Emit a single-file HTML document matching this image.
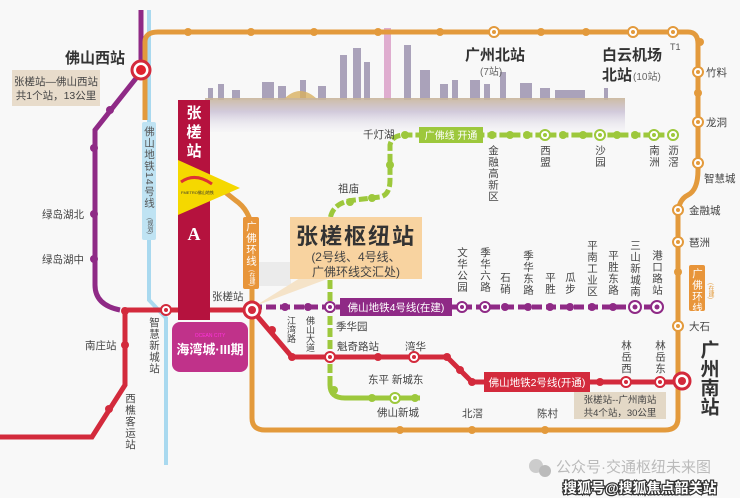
<!DOCTYPE html>
<html><head><meta charset="utf-8"><style>
html,body{margin:0;padding:0;background:#f8f8f8;}
svg{display:block;font-family:"Liberation Sans","Noto Sans CJK SC",sans-serif;}
.l{font-size:10.5px;fill:#444;}
.v{font-size:10.5px;fill:#444;writing-mode:tb;letter-spacing:1px;}
.b{font-weight:bold;fill:#333;}
</style></head><body>
<svg width="740" height="498" viewBox="0 0 740 498">
<rect width="740" height="498" fill="#f8f8f8"/>
<defs>
<linearGradient id="sky" x1="0" y1="0" x2="0" y2="1">
<stop offset="0" stop-color="#c9b59a" stop-opacity="0.9"/>
<stop offset="0.4" stop-color="#c8bfd4" stop-opacity="0.8"/>
<stop offset="1" stop-color="#eceaf2" stop-opacity="0.2"/>
</linearGradient>
</defs>
<g fill="#8a7fa0" opacity="0.7">
<rect x="208" y="88" width="5" height="12"/><rect x="218" y="84" width="6" height="16"/><rect x="232" y="90" width="8" height="10"/>
<rect x="262" y="82" width="12" height="18"/><rect x="278" y="86" width="8" height="14"/><rect x="300" y="80" width="6" height="20"/>
<rect x="318" y="86" width="8" height="14"/>
<rect x="340" y="55" width="7" height="45"/><rect x="353" y="48" width="8" height="52"/>
<rect x="364" y="62" width="6" height="38"/><rect x="404" y="45" width="7" height="55"/><rect x="420" y="70" width="10" height="30"/>
<rect x="440" y="84" width="8" height="16"/><rect x="452" y="80" width="6" height="20"/>
<rect x="470" y="80" width="10" height="20"/><rect x="484" y="84" width="6" height="16"/><rect x="500" y="72" width="6" height="28"/>
<rect x="520" y="83" width="12" height="17"/><rect x="540" y="88" width="10" height="12"/><rect x="555" y="90" width="30" height="10"/>
<rect x="604" y="88" width="4" height="12"/>
</g>
<rect x="384" y="28" width="7" height="72" fill="#d89ac4" opacity="0.8"/>
<path d="M283 100 Q300 82 318 100Z" fill="#d8b060" opacity="0.8"/>
<rect x="205" y="98" width="420" height="34" fill="url(#sky)"/>

<path d="M149 10 V300 L166 318 V465" stroke="#a9d9ef" stroke-width="4" fill="none"/>
<path d="M141 10 V72 L95 130 V285 Q95 305 120 310" stroke="#8f2a86" stroke-width="5" fill="none"/>
<path d="M0 437 H92 L125 385 V310 H252 L292 357 H447 L472 382 H682" stroke="#d32a3c" stroke-width="5" fill="none"/>
<path d="M252 307 H657" stroke="#8f2a86" stroke-width="5" fill="none" stroke-dasharray="10 4"/>
<path d="M330 385 Q330 398 345 398 H420" stroke="#9dc83c" stroke-width="5" fill="none"/>
<path d="M330 385 V220 Q332 202 355 200 L380 197 Q390 195 390 180 V145 Q392 135 405 135 H673" stroke="#9dc83c" stroke-width="5" fill="none" stroke-dasharray="9 3"/>
<path d="M145 120 V42 Q145 32 158 32 H688 Q698 32 698 44 V170 Q698 190 688 195 Q678 200 678 215 V380 V418 Q678 430 665 430 H265 Q252 430 252 418 V230 Q250 210 235 200 L225 192" stroke="#e39a3c" stroke-width="5" fill="none"/>

<rect x="178" y="100" width="32" height="220" fill="#b5123e"/>
<polygon points="178,160 240,188 178,215" fill="#f5d800"/>
<path d="M181 182 Q195 172 212 184" stroke="#d33" stroke-width="3" fill="none"/>
<text x="181" y="194" font-size="4" fill="#333">FMETRO佛山地铁</text>
<text x="194" y="118" font-size="15" fill="#fff" font-weight="bold" text-anchor="middle">张</text>
<text x="194" y="137" font-size="15" fill="#fff" font-weight="bold" text-anchor="middle">槎</text>
<text x="194" y="156" font-size="15" fill="#fff" font-weight="bold" text-anchor="middle">站</text>
<text x="194" y="240" font-size="18" fill="#fff" font-weight="bold" text-anchor="middle" font-family="Liberation Serif">A</text>
<rect x="172" y="322" width="76" height="50" rx="8" fill="#c0328a"/>
<text x="210" y="337" font-size="5" fill="#f3d" text-anchor="middle">OCEAN CITY</text>
<text x="210" y="354" font-size="13" fill="#fff" font-weight="bold" text-anchor="middle">海湾城·III期</text>

<rect x="142" y="122" width="14" height="118" rx="2" fill="#bfe3f3"/>
<text x="149" y="126" class="v" style="fill:#555">佛山地铁14号线</text>
<text x="149" y="218" style="writing-mode:tb;font-size:6px;fill:#555">(规划)</text>
<rect x="243" y="217" width="16" height="72" rx="2" fill="#e8953a"/>
<text x="251" y="221" class="v" style="fill:#fff">广佛环线</text>
<text x="251" y="270" style="writing-mode:tb;font-size:6px;fill:#fff">(在建)</text>
<rect x="689" y="265" width="16" height="46" rx="2" fill="#e8953a"/>
<text x="697" y="268" class="v" style="fill:#fff">广佛环线</text>
<text x="710" y="283" style="writing-mode:tb;font-size:6px;fill:#e39a3c">(在建)</text>

<rect x="259" y="262" width="32" height="24" fill="#ebebeb"/>
<polygon points="255,306 300,278 330,278" fill="#f5e3c8"/>
<rect x="290" y="217" width="132" height="62" fill="#f8d3a0"/>
<text x="356" y="244" font-size="22" font-weight="bold" fill="#333" text-anchor="middle" letter-spacing="2">张槎枢纽站</text>
<text x="356" y="261" font-size="12" fill="#444" text-anchor="middle">(2号线、4号线、</text>
<text x="356" y="276" font-size="12" fill="#444" text-anchor="middle">广佛环线交汇处)</text>

<rect x="340" y="298" width="112" height="18" fill="#8f2a86"/>
<text x="396" y="311" font-size="10.5" fill="#fff" text-anchor="middle">佛山地铁4号线(在建)</text>
<rect x="484" y="372" width="106" height="20" fill="#d32a3c"/>
<text x="537" y="386" font-size="10.5" fill="#fff" text-anchor="middle">佛山地铁2号线(开通)</text>
<rect x="419" y="127" width="64" height="16" fill="#9dc83c"/>
<text x="451" y="139" font-size="10" fill="#fff" text-anchor="middle">广佛线 开通</text>

<rect x="12" y="70" width="88" height="36" fill="#e8dccb"/>
<text x="56" y="85" font-size="10.5" fill="#444" text-anchor="middle">张槎站—佛山西站</text>
<text x="56" y="99" font-size="10.5" fill="#444" text-anchor="middle">共1个站，13公里</text>
<rect x="574" y="392" width="92" height="27" fill="#e3d8c6"/>
<text x="620" y="403" font-size="9.5" fill="#444" text-anchor="middle">张槎站--广州南站</text>
<text x="620" y="416" font-size="9.5" fill="#444" text-anchor="middle">共4个站，30公里</text>

<g fill="#e39a3c">
<circle cx="188" cy="32" r="4"/><circle cx="251" cy="32" r="4"/><circle cx="314" cy="32" r="4"/><circle cx="378" cy="32" r="4"/>
<circle cx="440" cy="32" r="4"/><circle cx="541" cy="32" r="4"/><circle cx="586" cy="32" r="4"/><circle cx="700" cy="42" r="4"/>
<circle cx="698" cy="93" r="4"/><circle cx="678" cy="272" r="4"/><circle cx="400" cy="430" r="4"/><circle cx="472" cy="430" r="4"/><circle cx="545" cy="430" r="4"/>
</g>
<g fill="#fff" stroke="#e39a3c" stroke-width="2">
<circle cx="494" cy="32" r="5"/><circle cx="633" cy="32" r="5"/><circle cx="673" cy="32" r="5"/><circle cx="698" cy="72" r="5"/>
<circle cx="698" cy="122" r="5"/><circle cx="698" cy="163" r="5"/><circle cx="678" cy="210" r="5"/><circle cx="678" cy="242" r="5"/><circle cx="678" cy="326" r="5"/>
</g>
<g fill="#e39a3c"><circle cx="494" cy="32" r="2"/><circle cx="633" cy="32" r="2"/><circle cx="673" cy="32" r="2"/><circle cx="698" cy="72" r="2"/><circle cx="698" cy="122" r="2"/><circle cx="698" cy="163" r="2"/><circle cx="678" cy="210" r="2"/><circle cx="678" cy="242" r="2"/><circle cx="678" cy="326" r="2"/></g>
<g fill="#8f2a86"><circle cx="110" cy="110" r="4"/><circle cx="94" cy="148" r="4"/><circle cx="94" cy="214" r="4"/><circle cx="94" cy="259" r="4"/>
<circle cx="285" cy="307" r="4"/><circle cx="308" cy="307" r="4"/><circle cx="505" cy="307" r="4"/><circle cx="528" cy="307" r="4"/><circle cx="550" cy="307" r="4"/><circle cx="570" cy="307" r="4"/><circle cx="592" cy="307" r="4"/><circle cx="613" cy="307" r="4"/></g>
<g fill="#fff" stroke="#8f2a86" stroke-width="2"><circle cx="330" cy="307" r="5"/><circle cx="462" cy="307" r="5"/><circle cx="485" cy="307" r="5"/><circle cx="635" cy="307" r="6"/><circle cx="657" cy="307" r="6"/></g>
<g fill="#8f2a86"><circle cx="330" cy="307" r="2"/><circle cx="462" cy="307" r="2"/><circle cx="485" cy="307" r="2"/><circle cx="635" cy="307" r="2.5"/><circle cx="657" cy="307" r="2.5"/></g>
<g fill="#d32a3c"><circle cx="125" cy="311" r="4"/><circle cx="125" cy="345" r="4"/><circle cx="109" cy="409" r="4"/><circle cx="272" cy="330" r="4"/><circle cx="292" cy="357" r="4"/>
<circle cx="378" cy="357" r="4"/><circle cx="447" cy="357" r="4"/><circle cx="460" cy="370" r="4"/><circle cx="472" cy="382" r="4"/><circle cx="600" cy="382" r="4"/></g>
<g fill="#fff" stroke="#d32a3c" stroke-width="2"><circle cx="166" cy="310" r="5"/><circle cx="330" cy="357" r="5"/><circle cx="414" cy="357" r="5"/><circle cx="626" cy="382" r="5"/><circle cx="660" cy="382" r="5"/></g>
<g fill="#d32a3c"><circle cx="166" cy="310" r="2"/><circle cx="330" cy="357" r="2"/><circle cx="414" cy="357" r="2"/><circle cx="626" cy="382" r="2"/><circle cx="660" cy="382" r="2"/></g>
<g fill="#9dc83c"><circle cx="405" cy="135" r="4"/><circle cx="492" cy="135" r="4"/><circle cx="510" cy="135" r="4"/><circle cx="527" cy="135" r="4"/><circle cx="563" cy="135" r="4"/><circle cx="583" cy="135" r="4"/><circle cx="617" cy="135" r="4"/><circle cx="635" cy="135" r="4"/>
<circle cx="390" cy="165" r="4"/><circle cx="372" cy="198" r="4"/><circle cx="350" cy="202" r="4"/><circle cx="334" cy="390" r="4"/><circle cx="372" cy="398" r="4"/><circle cx="415" cy="398" r="4"/></g>
<g fill="#fff" stroke="#9dc83c" stroke-width="2"><circle cx="545" cy="135" r="5"/><circle cx="600" cy="135" r="5"/><circle cx="654" cy="135" r="5"/><circle cx="673" cy="135" r="5"/><circle cx="395" cy="398" r="5"/></g>
<g fill="#9dc83c"><circle cx="545" cy="135" r="2"/><circle cx="600" cy="135" r="2"/><circle cx="654" cy="135" r="2"/><circle cx="673" cy="135" r="2"/><circle cx="395" cy="398" r="2"/></g>
<circle cx="141" cy="70" r="9" fill="#fff" stroke="#d32a3c" stroke-width="3"/><circle cx="141" cy="70" r="5" fill="#e0202e"/>
<circle cx="252" cy="310" r="8" fill="#fff" stroke="#d32a3c" stroke-width="3"/><circle cx="252" cy="310" r="4" fill="#d32a3c"/>
<circle cx="682" cy="381" r="8" fill="#fff" stroke="#d32a3c" stroke-width="3"/><circle cx="682" cy="381" r="4" fill="#d32a3c"/>

<text x="65" y="63" font-size="15" class="b">佛山西站</text>
<text x="465" y="60" font-size="15" class="b">广州北站</text>
<text x="480" y="75" font-size="10" fill="#666">(7站)</text>
<text x="602" y="60" font-size="15" class="b">白云机场</text>
<text x="602" y="80" font-size="15" class="b">北站</text><text x="633" y="80" font-size="10" fill="#666">(10站)</text>
<text x="670" y="50" font-size="9" fill="#555">T1</text>
<text x="706" y="76" class="l">竹料</text><text x="706" y="126" class="l">龙洞</text><text x="704" y="182" class="l">智慧城</text>
<text x="689" y="214" class="l">金融城</text><text x="689" y="246" class="l">琶洲</text><text x="689" y="330" class="l">大石</text>
<text x="708" y="340" style="writing-mode:tb;font-size:19px;font-weight:bold;fill:#333">广州南站</text>
<text x="363" y="138" class="l">千灯湖</text><text x="338" y="192" class="l">祖庙</text>
<text x="493" y="145" class="v">金融高新区</text><text x="545" y="145" class="v">西盟</text><text x="600" y="145" class="v">沙园</text><text x="654" y="145" class="v">南洲</text><text x="673" y="145" class="v">沥滘</text>
<text x="462" y="247" class="v">文华公园</text><text x="485" y="247" class="v">季华六路</text><text x="505" y="272" class="v">石硝</text><text x="528" y="250" class="v">季华东路</text>
<text x="550" y="272" class="v">平胜</text><text x="570" y="272" class="v">瓜步</text><text x="592" y="240" class="v">平南工业区</text><text x="613" y="250" class="v">平胜东路</text>
<text x="635" y="240" class="v">三山新城南</text><text x="657" y="250" class="v">港口路站</text>
<text x="291" y="316" style="writing-mode:tb;font-size:9px;fill:#444">江湾路</text><text x="310" y="316" style="writing-mode:tb;font-size:9px;fill:#444">佛山大道</text>
<text x="336" y="330" class="l">季华园</text><text x="337" y="350" class="l">魁奇路站</text><text x="405" y="350" class="l">湾华</text>
<text x="368" y="383" class="l">东平 新城东</text><text x="377" y="416" class="l">佛山新城</text><text x="462" y="417" class="l">北滘</text><text x="537" y="417" class="l">陈村</text>
<text x="626" y="340" class="v">林岳西</text><text x="660" y="340" class="v">林岳东</text>
<text x="212" y="300" class="l">张槎站</text>
<text x="154" y="317" class="v">智慧新城站</text>
<text x="85" y="349" class="l">南庄站</text>
<text x="130" y="393" class="v">西樵客运站</text>
<text x="42" y="218" class="l">绿岛湖北</text><text x="42" y="263" class="l">绿岛湖中</text>
<circle cx="536" cy="466" r="7" fill="#ccc"/><circle cx="545" cy="471" r="6" fill="#bbb"/>
<text x="556" y="472" font-size="15" fill="#bbb">公众号·交通枢纽未来图</text>
<text x="563" y="493" font-size="14" fill="#fff" stroke="#333" stroke-width="2.5" paint-order="stroke" font-weight="bold">搜狐号@搜狐焦点韶关站</text>
</svg>
</body></html>
